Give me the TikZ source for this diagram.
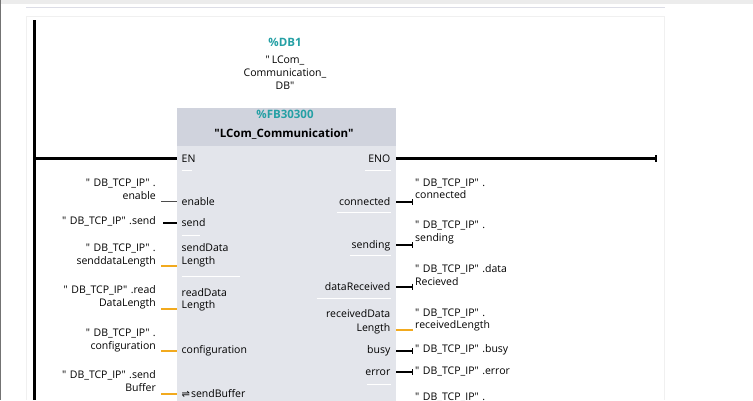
\documentclass[tikz,border=0pt]{standalone}
\usepackage{fontspec}
\setmainfont{Open Sans}[Ligatures=TeXOff]
\newfontfamily\djv{DejaVu Sans}
\definecolor{teal1}{RGB}{38,160,165}
\definecolor{hdr}{RGB}{208,211,221}
\definecolor{body}{RGB}{227,229,235}
\definecolor{org}{RGB}{242,170,30}
\definecolor{frameln}{RGB}{220,221,230}
\definecolor{topband}{RGB}{236,236,236}
\definecolor{faint}{RGB}{240,240,240}
\newcommand{\dbt}{"\kern3.5pt DB\_TCP\_IP"\kern3.5pt.}
\begin{document}
\begin{tikzpicture}[x=1pt,y=-1pt,
  txt/.style={font=\fontsize{10.5}{12}\selectfont, inner sep=0pt},
  le/.style={txt, anchor=base east},
  lw/.style={txt, anchor=base west},
  ce/.style={txt, anchor=base},
  tl/.style={txt, anchor=base, text=teal1, font=\fontsize{11.5}{13}\selectfont\bfseries},
  rail/.style={line width=2.4pt, black},
  pinblk/.style={line width=1.8pt, black},
  pingray/.style={line width=0.9pt, black!70},
  pinorg/.style={line width=2pt, org},
  sep/.style={white, line width=1pt}
]
\useasboundingbox (0,0) rectangle (753,400);
\clip (0,0) rectangle (753,400);
% frame
\fill[topband] (0,0) rectangle (753,3.5);
\draw[black!55, line width=1pt] (0.5,0) -- (0.5,400);
\draw[frameln, line width=1.4pt] (26,7.5) -- (665,7.5);
\draw[faint, line width=1pt] (26.5,400) -- (26.5,16) -- (664.5,16) -- (664.5,400);

% power rail
\coordinate (railtop) at (34.5,20);
\coordinate (railbot) at (34.5,400);
\draw[rail] (railtop) -- (railbot);

% block
\node[fill=body, inner sep=0pt, anchor=north west, minimum width=219pt, minimum height=300pt] (blk) at (177,108) {};
\fill[hdr] (blk.north west) rectangle (396,146);

% instance DB
\node[tl] (db1) at (285,46.5) {\%DB1};
\node[ce] (db2) at (285,63) {"\kern2pt LCom\_};
\node[ce] (db3) at (285,76.5) {Communication\_};
\node[ce] (db4) at (285,89.5) {DB"};
\node[tl] (fb) at (285,118.5) {\%FB30300};
\node[ce, font=\fontsize{11.5}{13}\selectfont\bfseries] (fbname) at (284,137.5) {"LCom\_Communication"};

% EN / ENO
\node[lw] (en) at (181.5,162.5) {EN};
\node[le] (eno) at (390.5,162.5) {ENO};
\coordinate (enl) at (177,158.5);
\coordinate (enor) at (396,158.5);
\coordinate (rungend) at (656,158.5);
\draw[rail] (railtop|-enl) -- (enl);
\draw[rail] (enor) -- (rungend);
\draw[line width=1.2pt] (rungend) ++(0,-3.5) -- ++(0,7);

% left inputs
\node[le] (a1) at (156,186.5) {\dbt};
\node[le] (a2) at (156,199) {enable};
\node[lw] (pa) at (181.5,205.5) {enable};
\coordinate (pa0) at (161,201.7);
\coordinate (pa1) at (177,201.7);
\draw[pingray] (pa0) -- (pa1);

\node[le] (b1) at (156,224.5) {\dbt send};
\node[lw] (pb) at (181.5,226.5) {send};
\coordinate (pb0) at (163,223.3);
\coordinate (pb1) at (177,223.3);
\draw[pinblk] (pb0) -- (pb1);

\node[le] (c1) at (156,251.5) {\dbt};
\node[le] (c2) at (156,264.5) {senddataLength};
\node[lw] (pc1) at (181.5,251.5) {sendData};
\node[lw] (pc2) at (181.5,264.5) {Length};
\coordinate (pc0) at (161,266);
\coordinate (pcb) at (177,266);
\draw[pinorg] (pc0) -- (pcb);

\node[le] (d1) at (156,293.5) {\dbt read};
\node[le] (d2) at (156,306.5) {DataLength};
\node[lw] (pd1) at (181.5,296) {readData};
\node[lw] (pd2) at (181.5,308.5) {Length};
\coordinate (pd0) at (161,308.7);
\coordinate (pdb) at (177,308.7);
\draw[pinorg] (pd0) -- (pdb);

\node[le] (e1) at (156,336.5) {\dbt};
\node[le] (e2) at (156,349) {configuration};
\node[lw] (pe) at (181.5,353.5) {configuration};
\coordinate (pe0) at (161,350.7);
\coordinate (peb) at (177,350.7);
\draw[pinorg] (pe0) -- (peb);

\node[le] (f1) at (156,378.5) {\dbt send};
\node[le] (f2) at (156,391.5) {Buffer};
\node[lw] (pf) at (181.5,397) {{\djv\fontsize{10}{11}\selectfont ⇌}\kern1pt sendBuffer};
\coordinate (pf0) at (161,394);
\coordinate (pfb) at (177,394);
\draw[pinorg] (pf0) -- (pfb);

% right outputs
\node[le] (q1) at (390.5,205.5) {connected};
\coordinate (q1a) at (396,202.3);
\coordinate (q1b) at (412.5,202.3);
\draw[pinblk] (q1a) -- (q1b);
\draw[line width=1.2pt] (q1b) ++(0,-3) -- ++(0,6);
\node[lw] (r1a) at (415,186) {\dbt};
\node[lw] (r1b) at (415,198.5) {connected};

\node[le] (q2) at (390.5,248.5) {sending};
\coordinate (q2a) at (396,245);
\coordinate (q2b) at (412.5,245);
\draw[pinblk] (q2a) -- (q2b);
\draw[line width=1.2pt] (q2b) ++(0,-3) -- ++(0,6);
\node[lw] (r2a) at (415,228.5) {\dbt};
\node[lw] (r2b) at (415,241.5) {sending};

\node[le] (q3) at (390.5,290) {dataReceived};
\coordinate (q3a) at (396,286.7);
\coordinate (q3b) at (412.5,286.7);
\draw[pinblk] (q3a) -- (q3b);
\draw[line width=1.2pt] (q3b) ++(0,-3) -- ++(0,6);
\node[lw] (r3a) at (415,272.5) {\dbt data};
\node[lw] (r3b) at (415,285) {Recieved};

\node[le] (q4a) at (390.5,317) {receivedData};
\node[le] (q4b) at (390.5,331.5) {Length};
\coordinate (q4s) at (396,330);
\coordinate (q4e) at (412.5,330);
\draw[pinorg] (q4s) -- (q4e);
\node[lw] (r4a) at (415,316.5) {\dbt};
\node[lw] (r4b) at (415,328.5) {receivedLength};

\node[le] (q5) at (390.5,353.5) {busy};
\coordinate (q5a) at (396,351);
\coordinate (q5b) at (412.5,351);
\draw[pinblk] (q5a) -- (q5b);
\draw[line width=1.2pt] (q5b) ++(0,-3) -- ++(0,6);
\node[lw] (r5) at (415,352.5) {\dbt busy};

\node[le] (q6) at (390.5,375) {error};
\coordinate (q6a) at (396,372.3);
\coordinate (q6b) at (412.5,372.3);
\draw[pinblk] (q6a) -- (q6b);
\draw[line width=1.2pt] (q6b) ++(0,-3) -- ++(0,6);
\node[lw] (r6) at (415,374.5) {\dbt error};

\node[lw] (r7) at (415,400) {\dbt};

% separators inside block
\draw[sep] (181.5,170) -- (192,170);
\draw[sep] (365,170) -- (390.5,170);
\draw[sep] (336.5,212.5) -- (390.5,212.5);
\draw[sep] (181.5,235) -- (200,235);
\draw[sep] (350,255) -- (390.5,255);
\draw[sep] (181.5,276.5) -- (240,276.5);
\draw[sep] (316.5,298) -- (390.5,298);
\draw[sep] (366.5,384) -- (390.5,384);
\end{tikzpicture}
\end{document}
